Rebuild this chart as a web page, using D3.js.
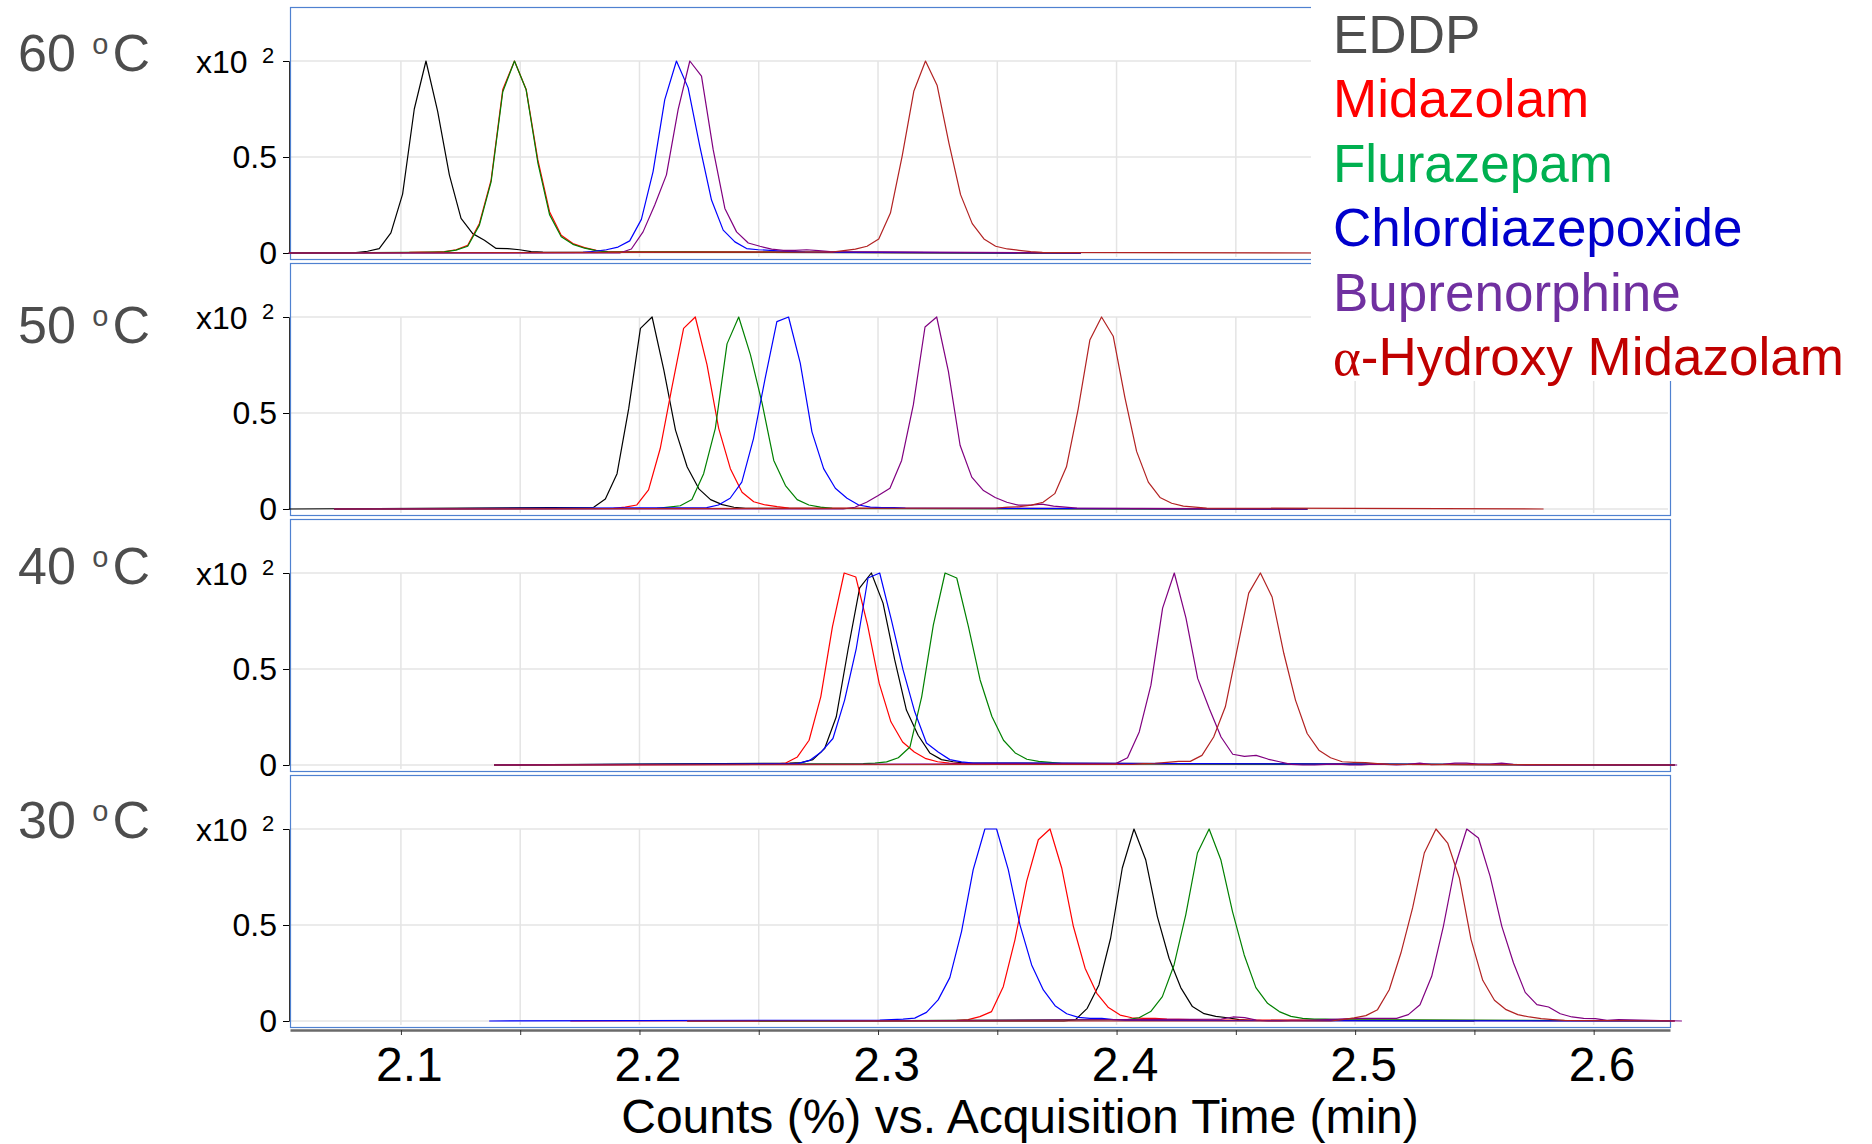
<!DOCTYPE html>
<html>
<head>
<meta charset="utf-8">
<script src="https://cdn.jsdelivr.net/npm/d3@7"></script>
<style>
    body { margin: 0; background: #fff; }
    svg { display: block; font-family: "Liberation Sans", Arial, sans-serif; }
</style>
</head>
<body>
<div id="chart"></div>
<script>
// compounds, in legend order
const compounds = ["EDDP", "Midazolam", "Flurazepam", "Chlordiazepoxide", "Buprenorphine", "-Hydroxy Midazolam"];
const traceColors = ["#000000", "#ff0000", "#008000", "#0000ff", "#800080", "#b22222"];
const legendColors = ["#4d4d4d", "#ff0000", "#00b050", "#0000cc", "#7030a0", "#c00000"];

const temps = ["60", "50", "40", "30"];
const xTicks = [2.1, 2.2, 2.3, 2.4, 2.5, 2.6];
const yTicks = [0, 0.5, 1];
const yTickLabels = ["0", "0.5", ""];

// sampling interval of the chromatograms (min)
const step = 0.0049;

// 60 oC : first sample time of each peak, sampled counts (x10^2), trace extent
const start60 = [2.0811, 2.1035, 2.1035, 2.1763, 2.1917, 2.2807];
const peaks60 = [
    [0.002, 0.009, 0.023, 0.105, 0.307, 0.75, 1.0, 0.738, 0.407, 0.18, 0.101, 0.066, 0.024, 0.023, 0.017, 0.007, 0.005],
    [0.003, 0.005, 0.005, 0.007, 0.017, 0.04, 0.154, 0.38, 0.852, 1.0, 0.852, 0.485, 0.215, 0.093, 0.049, 0.028, 0.014, 0.007],
    [0.003, 0.004, 0.005, 0.006, 0.015, 0.035, 0.145, 0.37, 0.84, 1.0, 0.85, 0.47, 0.2, 0.085, 0.045, 0.025, 0.012, 0.006],
    [0.003, 0.009, 0.017, 0.031, 0.063, 0.175, 0.424, 0.799, 1.0, 0.86, 0.555, 0.276, 0.119, 0.058, 0.023, 0.017, 0.014, 0.01, 0.007, 0.005],
    [0, 0.021, 0.11, 0.25, 0.407, 0.747, 1.0, 0.921, 0.538, 0.232, 0.11, 0.052, 0.035, 0.02, 0.014, 0.014, 0.017, 0.012, 0.007],
    [0.005, 0.012, 0.02, 0.035, 0.073, 0.208, 0.503, 0.842, 1.0, 0.872, 0.573, 0.304, 0.153, 0.073, 0.035, 0.021, 0.014, 0.007, 0.003]
];
const range60 = [[2.053, 2.385], [2.053, 2.385], [2.053, 2.385], [2.053, 2.385], [2.053, 2.385], [2.053, 2.49]];

// 50 oC
const start50 = [2.1808, 2.1891, 2.2073, 2.2282, 2.2854, 2.3496];
const peaks50 = [
    [0.009, 0.052, 0.184, 0.524, 0.941, 1.0, 0.725, 0.411, 0.219, 0.105, 0.049, 0.023, 0.009, 0.003],
    [0.003, 0.01, 0.021, 0.1, 0.315, 0.633, 0.941, 1.0, 0.752, 0.42, 0.21, 0.087, 0.038, 0.021, 0.012, 0.005],
    [0.003, 0.01, 0.017, 0.049, 0.184, 0.42, 0.86, 1.0, 0.804, 0.551, 0.253, 0.122, 0.049, 0.021, 0.01, 0.003],
    [0.007, 0.021, 0.056, 0.14, 0.367, 0.682, 0.976, 1.0, 0.76, 0.402, 0.21, 0.108, 0.056, 0.021, 0.01, 0.007, 0.007, 0.005],
    [0, 0.009, 0.035, 0.07, 0.108, 0.253, 0.542, 0.948, 1.0, 0.717, 0.332, 0.166, 0.096, 0.06, 0.035, 0.02, 0.02, 0.025, 0.015, 0.01, 0.005],
    [0.005, 0.01, 0.012, 0.02, 0.035, 0.08, 0.22, 0.52, 0.88, 1.0, 0.9, 0.58, 0.3, 0.14, 0.06, 0.03, 0.015, 0.01, 0.005]
];
const range50 = [[2.053, 2.48], [2.072, 2.48], [2.072, 2.48], [2.072, 2.48], [2.072, 2.48], [2.072, 2.579]];

// 40 oC
const start40 = [2.2629, 2.2515, 2.2938, 2.2664, 2.3997, 2.4015];
const peaks40 = [
    [0.01, 0.012, 0.028, 0.085, 0.251, 0.599, 0.922, 1.0, 0.843, 0.547, 0.286, 0.155, 0.063, 0.028, 0.017, 0.01],
    [0.003, 0.005, 0.01, 0.042, 0.129, 0.355, 0.721, 1.0, 0.979, 0.73, 0.425, 0.225, 0.12, 0.068, 0.033, 0.017, 0.01, 0.007],
    [0.007, 0.01, 0.016, 0.038, 0.094, 0.355, 0.73, 1.0, 0.974, 0.721, 0.443, 0.254, 0.129, 0.063, 0.03, 0.019, 0.014, 0.007],
    [0.007, 0.024, 0.068, 0.138, 0.338, 0.608, 0.974, 1.0, 0.756, 0.495, 0.277, 0.115, 0.068, 0.028, 0.016, 0.01],
    [0.007, 0.038, 0.172, 0.416, 0.817, 1.0, 0.765, 0.451, 0.293, 0.146, 0.056, 0.045, 0.05, 0.031, 0.017, 0.003, 0, 0, 0.003, 0.005,
        0, 0, 0.005, 0.003, 0, 0.003, 0.01, 0.002, 0.003, 0.01, 0.01, 0.005, 0.005, 0.01, 0.003, 0],
    [0.003, 0.003, 0.007, 0.009, 0.014, 0.019, 0.019, 0.05, 0.146, 0.303, 0.599, 0.895, 1.0, 0.875, 0.582, 0.338, 0.164, 0.077,
        0.038, 0.017, 0.014, 0.012, 0.007, 0.003]
];
const range40 = [[2.139, 2.634], [2.139, 2.634], [2.139, 2.634], [2.139, 2.634], [2.139, 2.635], [2.139, 2.634]];

// 30 oC
const start30 = [2.3779, 2.3329, 2.4045, 2.3007, 2.4439, 2.4898];
const peaks30 = [
    [0, 0.007, 0.066, 0.188, 0.431, 0.797, 1.0, 0.84, 0.544, 0.327, 0.174, 0.075, 0.038, 0.024, 0.017, 0.007, 0.003],
    [0.003, 0.007, 0.023, 0.049, 0.179, 0.423, 0.727, 0.944, 1.0, 0.797, 0.492, 0.275, 0.144, 0.07, 0.031, 0.017, 0.014, 0.014,
        0.01, 0.008, 0.007, 0.005],
    [0.007, 0.017, 0.049, 0.127, 0.292, 0.553, 0.875, 1.0, 0.84, 0.57, 0.344, 0.174, 0.092, 0.049, 0.024, 0.014, 0.01, 0.01, 0.007],
    [0.005, 0.007, 0.01, 0.015, 0.045, 0.11, 0.226, 0.466, 0.788, 1.0, 1.0, 0.788, 0.501, 0.292, 0.162, 0.08, 0.038, 0.019,
        0.014, 0.014, 0.007, 0.003],
    [0.01, 0.021, 0.018, 0.005, 0, 0, 0.003, 0.003, 0.005, 0.007, 0.01, 0.012, 0.014, 0.014, 0.014, 0.014, 0.033, 0.085, 0.233,
        0.493, 0.806, 1.0, 0.953, 0.753, 0.493, 0.302, 0.149, 0.085, 0.073, 0.038, 0.021, 0.014, 0.012, 0.003, 0.007],
    [0, 0.007, 0.016, 0.028, 0.059, 0.163, 0.354, 0.589, 0.875, 1.0, 0.927, 0.745, 0.424, 0.212, 0.108, 0.059, 0.033, 0.021,
        0.012, 0.007, 0.003]
];
const range30 = [[2.22, 2.55], [2.171, 2.634], [2.25, 2.632], [2.137, 2.634], [2.28, 2.637], [2.22, 2.634]];

const panels = [
    { temp: temps[0], start: start60, peaks: peaks60, range: range60 },
    { temp: temps[1], start: start50, peaks: peaks50, range: range50 },
    { temp: temps[2], start: start40, peaks: peaks40, range: range40 },
    { temp: temps[3], start: start30, peaks: peaks30, range: range30 }
];

let width = 1872,
    height = 1144;

let svg = d3.select("#chart").append("svg")
    .attr("width", width)
    .attr("height", height);

svg.append("rect")
    .attr("width", width)
    .attr("height", height)
    .attr("fill", "#fff");

let x = d3.scaleLinear()
    .domain([2.0535, 2.632])
    .range([290, 1670]);

let panelTops = [7, 263, 519, 775];
let panelH = 252;
let frameColor = "#4f81d0";
let gridTicks = d3.range(2.1, 2.6001, 0.05);

let line = d3.line()
    .x(function(d) { return x(d[0]); });

panels.forEach(function(p, i) {
    let top = panelTops[i];
    let y = d3.scaleLinear()
        .domain([0, 1])
        .range([top + 246, top + 54]);

    let g = svg.append("g").attr("class", "panel");

    // grid
    g.selectAll(".hgrid")
        .data(yTicks)
        .enter().append("line")
        .attr("x1", 290).attr("x2", 1668)
        .attr("y1", function(d) { return y(d); })
        .attr("y2", function(d) { return y(d); })
        .attr("stroke", "#e4e4e4")
        .attr("stroke-width", 1.5);

    g.selectAll(".vgrid")
        .data(gridTicks)
        .enter().append("line")
        .attr("x1", function(d) { return x(d); })
        .attr("x2", function(d) { return x(d); })
        .attr("y1", y(1))
        .attr("y2", top + panelH - 2)
        .attr("stroke", "#e4e4e4")
        .attr("stroke-width", 1.5);

    // frame
    g.append("rect")
        .attr("x", 290.5)
        .attr("y", top + 0.5)
        .attr("width", 1380)
        .attr("height", panelH)
        .attr("fill", "none")
        .attr("stroke", frameColor)
        .attr("stroke-width", 1.2);

    // y axis
    let yAxis = d3.axisLeft(y)
        .tickValues(yTicks)
        .tickFormat(function(d, k) { return yTickLabels[k]; })
        .tickSize(6)
        .tickPadding(6);

    let ya = g.append("g")
        .attr("transform", "translate(289,0)")
        .call(yAxis);
    ya.select(".domain").attr("stroke", "#333").attr("stroke-width", 1);
    ya.selectAll("text")
        .attr("font-size", 32)
        .attr("fill", "#000")
        .attr("font-family", "'Liberation Sans', Arial, sans-serif");

    // multiplier label
    g.append("text")
        .attr("x", 196)
        .attr("y", y(1) + 12)
        .attr("font-size", 32)
        .text("x10");
    g.append("text")
        .attr("x", 262)
        .attr("y", y(1) + 2)
        .attr("font-size", 22)
        .text("2");

    // traces
    line.y(function(d) { return y(d[1]); });

    let traces = compounds.map(function(c, k) {
        let r = p.range[k];
        let pts = [[r[0], 0]];
        p.peaks[k].forEach(function(v, j) {
            let t = p.start[k] + j * step;
            if (t > r[0] && t < r[1]) pts.push([t, v]);
        });
        pts.push([r[1], 0]);
        return { name: c, color: traceColors[k], pts: pts };
    });

    g.selectAll(".trace")
        .data(traces)
        .enter().append("path")
        .classed("trace", true)
        .attr("d", function(d) { return line(d.pts); })
        .attr("fill", "none")
        .attr("stroke", function(d) { return d.color; })
        .attr("stroke-width", 1.2)
        .attr("stroke-linejoin", "round");
});

// temperature labels
let tempBase = [71, 343, 584, 838];
panels.forEach(function(p, i) {
    let t = svg.append("text")
        .attr("x", 18)
        .attr("y", tempBase[i])
        .attr("font-size", 52)
        .attr("fill", "#4d4d4d");
    t.append("tspan").text(p.temp + " ");
    t.append("tspan").attr("font-size", 29).attr("dx", 2).attr("dy", -17).text("o");
    t.append("tspan").attr("dx", 4).attr("dy", 17).text("C");
});

// x axis
let xAxis = d3.axisBottom(x)
    .tickValues(gridTicks)
    .tickFormat(function(d) {
        let hit = xTicks.find(function(v) { return Math.abs(v - d) < 1e-6; });
        return hit ? d3.format(".1f")(hit) : "";
    })
    .tickSize(5)
    .tickPadding(12)
    .tickSizeOuter(0);

let xa = svg.append("g")
    .attr("transform", "translate(0,1030)")
    .call(xAxis);
xa.select(".domain").attr("stroke", "#6a6a6a").attr("stroke-width", 2.5);
xa.selectAll(".tick line").attr("stroke", "#333");
xa.selectAll("text")
    .attr("dx", 8)
    .attr("font-size", 48)
    .attr("fill", "#000")
    .attr("font-family", "'Liberation Sans', Arial, sans-serif");

svg.append("text")
    .attr("x", 1020)
    .attr("y", 1133)
    .attr("text-anchor", "middle")
    .attr("font-size", 48)
    .text("Counts (%) vs. Acquisition Time (min)");

// legend sits on a white box over the top panel
svg.append("rect")
    .attr("x", 1311)
    .attr("y", 0)
    .attr("width", width - 1311)
    .attr("height", 381)
    .attr("fill", "#fff");

let legend = svg.append("g").selectAll(".legend")
    .data(compounds)
    .enter().append("text")
    .classed("legend", true)
    .attr("x", 1333)
    .attr("y", function(d, k) { return 53 + k * 64.4; })
    .attr("font-size", 53)
    .attr("fill", function(d, k) { return legendColors[k]; });

legend.each(function(d, k) {
    let el = d3.select(this);
    if (k === 5) {
        el.append("tspan").attr("font-family", "'Liberation Serif', 'Times New Roman', serif").text("α");
    }
    el.append("tspan").text(d);
});
</script>
</body>
</html>
